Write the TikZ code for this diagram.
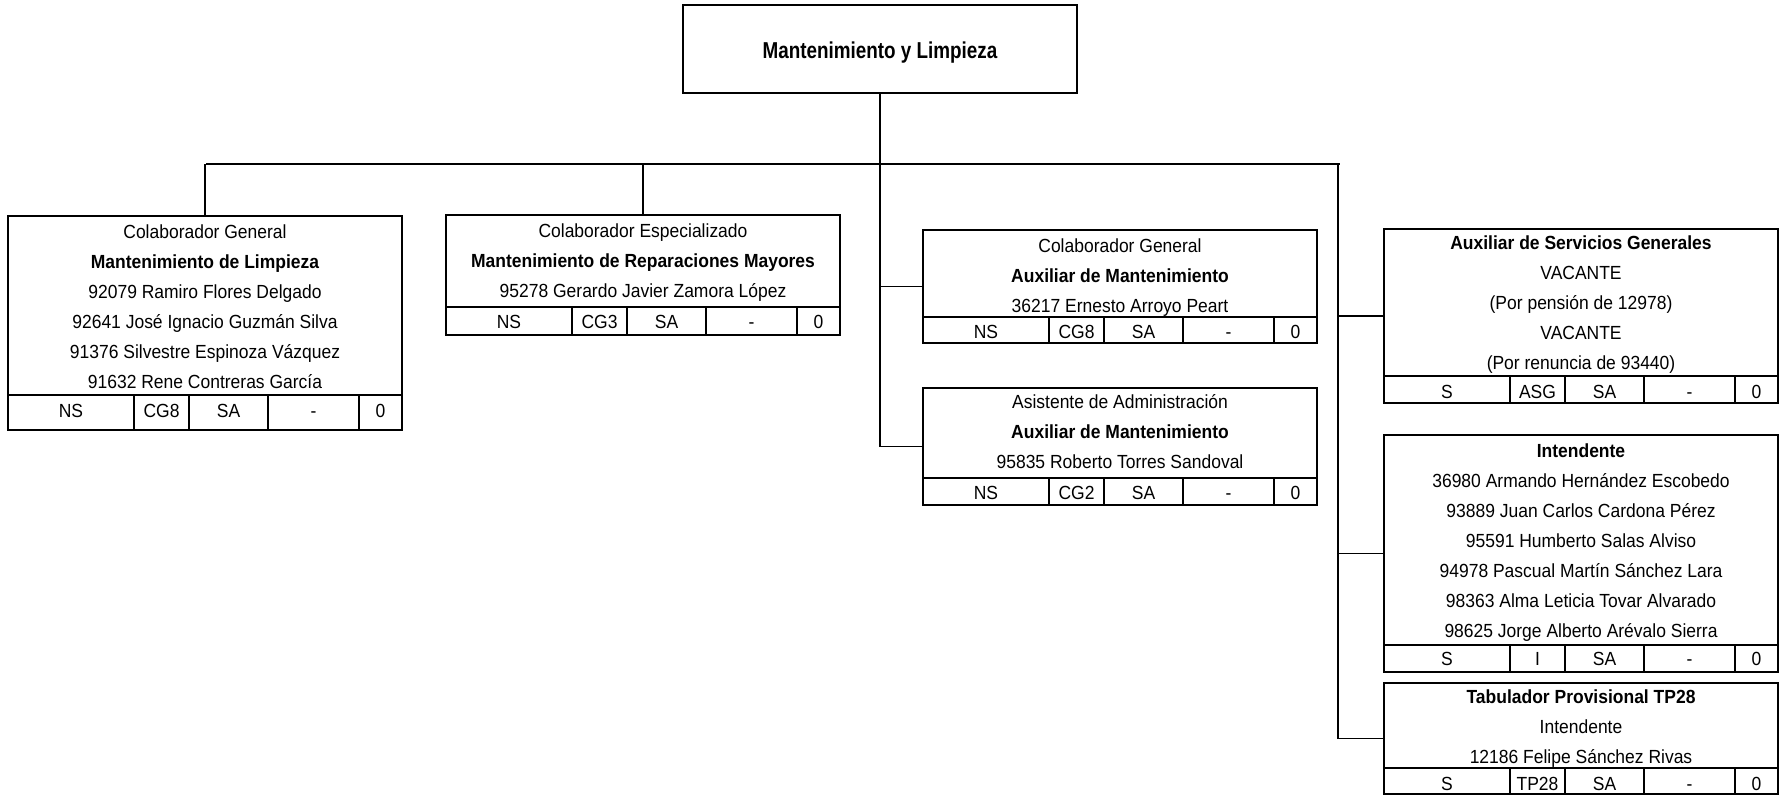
\documentclass[tikz,border=0pt]{standalone}
\usepackage{fontspec}
\setmainfont{Liberation Sans}[FakeStretch=0.92]
\newfontfamily\titlefont{Liberation Sans}[FakeStretch=0.82]
\usetikzlibrary{fit}
\tikzset{
  box/.style={draw, line width=2.4pt, inner sep=0pt},
  boxline/.style={line width=2.4pt},
  conn/.style={line width=1.6pt},
  txt/.style={anchor=base, inner sep=0pt, font=\fontsize{19}{22}\selectfont},
}
\newcommand\orgbox[5]{% name, left, top, bottom, table top
  \coordinate (#1-nw) at (#2,#3);
  \coordinate (#1-se) at ({#2+394},#4);
  \node[box, fit=(#1-nw)(#1-se)] (#1) {};
  \draw[boxline] (#2,#5) -- ({#2+394},#5);
  \foreach \d in {126,181,260,351} \draw[boxline] ({#2+\d},#5) -- ({#2+\d},#4);
}
\newcommand\boxlines[4]{% name, center x, first baseline, lines
  \foreach \t [count=\i] in {#4}
    \node[txt] (#1-l\i) at (#2, {#3+30*(\i-1)}) {\t};
}
\newcommand\cells[4]{% name, left, baseline, cell texts
  \foreach \t [count=\i] in {#4}{
    \pgfmathsetmacro\o{{63,153.5,220.5,305.5,372.5}[\i-1]}
    \node[txt] (#1-c\i) at ({#2+\o}, #3) {\t};
  }
}
\begin{document}
\begin{tikzpicture}[x=1pt,y=-1pt]
\useasboundingbox (0,0) rectangle (1784,795);

% top box
\coordinate (top-nw) at (683,5);
\coordinate (top-se) at (1077,93);
\node[box, fit=(top-nw)(top-se)] (top) {};
\node[anchor=base, inner sep=0pt, font=\titlefont\bfseries\fontsize{23}{26}\selectfont] (title) at (880,58) {Mantenimiento y Limpieza};

% boxes
\orgbox{A}{8}{216}{430}{395}
\boxlines{A}{205}{238}{Colaborador General,\textbf{Mantenimiento de Limpieza},92079 Ramiro Flores Delgado,92641 José Ignacio Guzmán Silva,91376 Silvestre Espinoza Vázquez,91632 Rene Contreras García}
\cells{A}{8}{417}{NS,CG8,SA,-,0}

\orgbox{B}{446}{215}{335}{307}
\boxlines{B}{643}{237}{Colaborador Especializado,\textbf{Mantenimiento de Reparaciones Mayores},95278 Gerardo Javier Zamora López}
\cells{B}{446}{328}{NS,CG3,SA,-,0}

\orgbox{C}{923}{230}{343}{317}
\boxlines{C}{1120}{252}{Colaborador General,\textbf{Auxiliar de Mantenimiento},36217 Ernesto Arroyo Peart}
\cells{C}{923}{338}{NS,CG8,SA,-,0}

\orgbox{D}{923}{388}{505}{478}
\boxlines{D}{1120}{408}{Asistente de Administración,\textbf{Auxiliar de Mantenimiento},95835 Roberto Torres Sandoval}
\cells{D}{923}{499}{NS,CG2,SA,-,0}

\orgbox{E}{1384}{229}{403}{376}
\boxlines{E}{1581}{249}{\textbf{Auxiliar de Servicios Generales},VACANTE,(Por pensión de 12978),VACANTE,(Por renuncia de 93440)}
\cells{E}{1384}{398}{S,ASG,SA,-,0}

\orgbox{F}{1384}{435}{672}{645}
\boxlines{F}{1581}{457}{\textbf{Intendente},36980 Armando Hernández Escobedo,93889 Juan Carlos Cardona Pérez,95591 Humberto Salas Alviso,94978 Pascual Martín Sánchez Lara,98363 Alma Leticia Tovar Alvarado,98625 Jorge Alberto Arévalo Sierra}
\cells{F}{1384}{665}{S,I,SA,-,0}

\orgbox{G}{1384}{683}{794}{768}
\boxlines{G}{1581}{703}{\textbf{Tabulador Provisional TP28},Intendente,12186 Felipe Sánchez Rivas}
\cells{G}{1384}{790}{S,TP28,SA,-,0}

% connectors
\coordinate (busL) at (206,164);
\coordinate (busR) at (1340,164);
\coordinate (rv) at (1338,164);
\draw[conn] (busL) -- (busR);
\draw[conn] (A.north) -- (A.north |- busL);
\draw[conn] (B.north) -- (B.north |- busL);
\draw[conn] (top.south) -- (top.south |- D.west) -- (D.west);
\draw[conn] (top.south |- C.west) -- (C.west);
\draw[conn] (rv) -- (rv |- G.west) -- (G.west);
\draw[conn] (rv |- E.west) -- (E.west);
\draw[conn] (rv |- F.west) -- (F.west);
\end{tikzpicture}
\end{document}
